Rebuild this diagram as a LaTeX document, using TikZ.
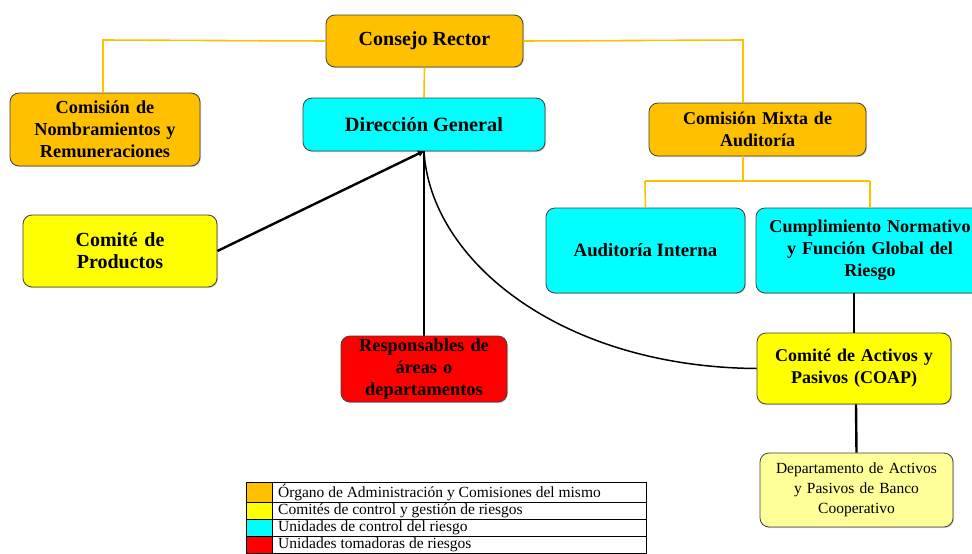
\documentclass[tikz,border=0pt]{standalone}
\usepackage{fontspec}
\setmainfont{Liberation Serif}
\usetikzlibrary{arrows.meta,shadows}
\definecolor{corg}{HTML}{FFC000}
\definecolor{ccyan}{HTML}{00FFFF}
\definecolor{cyel}{HTML}{FFFF00}
\definecolor{cred}{HTML}{FF0000}
\definecolor{clyel}{HTML}{FFFF99}
\definecolor{cbord}{HTML}{404040}
\tikzset{
  fsz/.style={font=\bfseries\fontsize{#1}{22}\selectfont},
  box/.style={draw=cbord, line width=0.8pt, rounded corners=9pt, align=center,
     fsz=20, inner sep=2pt,
     drop shadow={shadow xshift=1pt,shadow yshift=-1pt,opacity=0.35}},
  orgbox/.style={box, fill=corg},
  cyanbox/.style={box, fill=ccyan},
  yelbox/.style={box, fill=cyel},
  redbox/.style={box, fill=cred},
  lyelbox/.style={box, fill=clyel, font=\fontsize{15.5}{20}\selectfont},
  oline/.style={draw=corg, line width=1.6pt},
  bline/.style={draw=black, line width=2.4pt},
  cline/.style={draw=black, line width=1.5pt},
  legtext/.style={anchor=west, font=\fontsize{15.5}{16}\selectfont, inner sep=0pt},
}
\begin{document}
\begin{tikzpicture}[x=1pt,y=-1pt]
\useasboundingbox (0,0) rectangle (972,554);
% nodes
\node[orgbox, minimum width=197pt, minimum height=52pt] (cr) at (424.5,41) {Consejo Rector};
\node[orgbox, fsz=18.3, minimum width=190pt, minimum height=73pt, text width=186pt] (cnr) at (105,129.5) {Comisión de\\Nombramientos y\\Remuneraciones};
\node[cyanbox, fsz=20.3, minimum width=242pt, minimum height=53pt] (dg) at (424,124.5) {Dirección General};
\node[orgbox, fsz=18, minimum width=217pt, minimum height=53pt, text width=210pt] (cma) at (757.5,129.5) {Comisión Mixta de\\Auditoría};
\node[yelbox, minimum width=194pt, minimum height=72pt, text width=186pt] (cp) at (120,251) {Comité de\\Productos};
\node[cyanbox, fsz=18.8, minimum width=199pt, minimum height=85pt] (ai) at (645.5,250.5) {Auditoría Interna};
\node[cyanbox, fsz=18.1, minimum width=226pt, minimum height=85pt, text width=224pt] (cn) at (870,250.5) {Cumplimiento Normativo\\y Función Global del\\Riesgo};
\node[redbox, fsz=18.4, minimum width=166pt, minimum height=66pt, text width=162pt] (rad) at (424,369) {Responsables de\\áreas o\\departamentos};
\node[yelbox, fsz=18, minimum width=194pt, minimum height=71pt, text width=190pt] (coap) at (854,368.5) {Comité de Activos y\\Pasivos (COAP)};
\node[lyelbox, minimum width=193pt, minimum height=74pt, text width=189pt] (dap) at (856.5,490) {Departamento de Activos\\y Pasivos de Banco\\Cooperativo};
% orange connectors
\coordinate (jl) at (103,40);
\coordinate (jr) at (743,40);
\draw[oline] (cr.west) -- (jl) -- (jl |- cnr.north);
\draw[oline] (cr.east) -- (jr) -- (jr |- cma.north);
\draw[oline] (cr.south) -- (dg.north);
\coordinate (jm) at (743,181);
\coordinate (ja) at (645,181);
\coordinate (jc) at (870,181);
\draw[oline] (cma.south -| jm) -- (jm);
\draw[oline] (ja) -- (jc);
\draw[oline] (ja) -- (ai.north);
\draw[oline] (jc) -- (cn.north);
% black connectors
\coordinate (tip) at (424,151);
\draw[bline, -{Triangle[length=6pt,width=6pt]}] (cp.east) -- (tip);
\draw[bline] (rad.north) -- (tip);
\draw[cline] (coap.west) .. controls (560,367) and (430,260) .. (tip);
\draw[bline] (cn.south -| 854,0) -- (coap.north);
\draw[bline] (coap.south -| 856,0) -- (dap.north);
% legend
\fill[corg] (246,482) rectangle (272,502);
\fill[cyel] (246,502) rectangle (272,519);
\fill[ccyan] (246,519) rectangle (272,536);
\fill[cred] (246,536) rectangle (272,553);
\draw[line width=1pt] (246,482) rectangle (646,553);
\foreach \yy in {502,519,536} \draw[line width=1pt] (246,\yy) -- (646,\yy);
\draw[line width=1pt] (272,482) -- (272,553);
\node[legtext] (l1) at (278,493) {Órgano de Administración y Comisiones del mismo};
\node[legtext] (l2) at (278,510.5) {Comités de control y gestión de riesgos};
\node[legtext] (l3) at (278,527.5) {Unidades de control del riesgo};
\node[legtext] (l4) at (278,544.5) {Unidades tomadoras de riesgos};
\end{tikzpicture}
\end{document}
